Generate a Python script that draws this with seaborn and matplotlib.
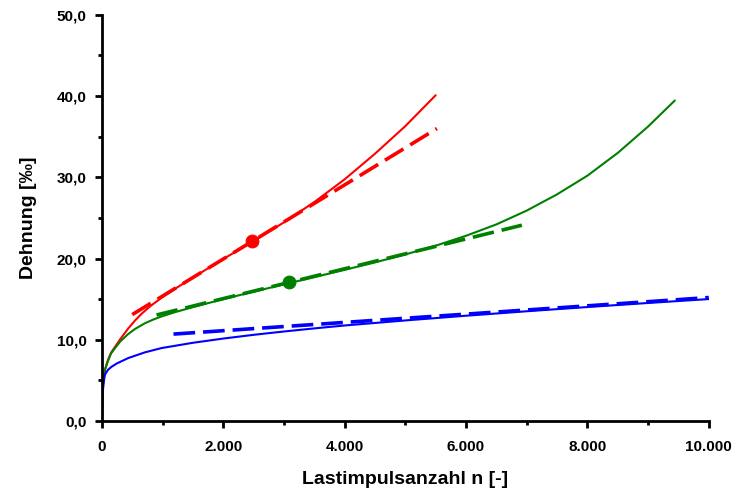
import matplotlib
matplotlib.use("Agg")
import matplotlib.pyplot as plt
import seaborn as sns
from matplotlib.ticker import FuncFormatter, MultipleLocator

# --- data ---
red_n = [0, 10, 25, 50, 100, 150, 214, 300, 434, 550, 654, 800, 983, 1200, 1500, 2000, 2500, 3000,
         3500, 4000, 4500, 5000, 5500]
red_e = [0, 3.2, 5.0, 6.3, 7.5, 8.4, 9.1, 10.05, 11.39, 12.4, 13.2, 14.15, 15.17, 16.25, 17.66, 19.94,
         22.15, 24.45, 26.95, 29.75, 32.9, 36.3, 40.1]

green_n = [0, 10, 25, 50, 100, 150, 214, 300, 434, 550, 708, 850, 983, 1200, 1500, 2000, 2500, 3000,
           3500, 4000, 4500, 5000, 5500, 6000, 6500, 7000, 7500, 8000, 8500, 9000, 9440]
green_e = [0, 3.2, 5.0, 6.3, 7.4, 8.3, 8.95, 9.77, 10.71, 11.35, 12.03, 12.5, 12.87, 13.39, 14.02, 15.0,
           15.92, 16.82, 17.71, 18.61, 19.53, 20.5, 21.58, 22.8, 24.2, 25.9, 27.9, 30.2, 33.0, 36.25, 39.45]

blue_n = [0, 10, 25, 50, 100, 160, 250, 434, 708, 983, 1500, 2000, 2500, 3000, 3500, 4000, 5000,
          6000, 7000, 8000, 9000, 10000]
blue_e = [0, 3.0, 4.5, 5.7, 6.3, 6.68, 7.1, 7.75, 8.45, 8.98, 9.63, 10.15, 10.61, 11.02, 11.4, 11.76,
          12.38, 12.96, 13.51, 14.03, 14.53, 15.01]

red_fit_n = [500, 5520]
red_fit_e = [13.1, 36.0]
green_fit_n = [900, 6920]
green_fit_e = [13.05, 24.1]
blue_fit_n = [1180, 10000]
blue_fit_e = [10.7, 15.2]

red_pt_n, red_pt_e = [2480], [22.2]
green_pt_n, green_pt_e = [3080], [17.05]

RED, GREEN, BLUE = "#ff0000", "#008000", "#0000ff"

sns.set_theme(style="white")
plt.rcParams["font.family"] = ["Liberation Sans", "DejaVu Sans"]
plt.rcParams["text.color"] = "black"
plt.rcParams["axes.labelcolor"] = "black"

fig = plt.figure(figsize=(7.33, 4.93), dpi=100)
ax = fig.add_axes([0.139, 0.146, 0.828, 0.824])

dash = (0, (6, 2.2))
sns.lineplot(x=red_fit_n, y=red_fit_e, color=RED, linewidth=2.6, linestyle=dash, ax=ax)
sns.lineplot(x=green_fit_n, y=green_fit_e, color=GREEN, linewidth=2.6, linestyle=dash, ax=ax)
sns.lineplot(x=blue_fit_n, y=blue_fit_e, color=BLUE, linewidth=2.6, linestyle=dash, ax=ax)

sns.lineplot(x=red_n, y=red_e, color=RED, linewidth=1.5, ax=ax, sort=False)
sns.lineplot(x=green_n, y=green_e, color=GREEN, linewidth=1.5, ax=ax, sort=False)
sns.lineplot(x=blue_n, y=blue_e, color=BLUE, linewidth=1.5, ax=ax, sort=False)

sns.scatterplot(x=red_pt_n, y=red_pt_e, color=RED, s=85, edgecolor=RED, ax=ax, zorder=5)
sns.scatterplot(x=green_pt_n, y=green_pt_e, color=GREEN, s=85, edgecolor=GREEN, ax=ax, zorder=5)

ax.set_xlim(0, 10000)
ax.set_ylim(0, 50)
ax.xaxis.set_major_locator(MultipleLocator(2000))
ax.xaxis.set_minor_locator(MultipleLocator(1000))
ax.yaxis.set_major_locator(MultipleLocator(10))
ax.yaxis.set_minor_locator(MultipleLocator(5))

ax.xaxis.set_major_formatter(FuncFormatter(lambda v, p: f"{int(round(v)):,}".replace(",", ".")))
ax.yaxis.set_major_formatter(FuncFormatter(lambda v, p: f"{v:.1f}".replace(".", ",")))

for side in ["top", "right"]:
    ax.spines[side].set_visible(False)
for side in ["left", "bottom"]:
    ax.spines[side].set_linewidth(2)
    ax.spines[side].set_color("black")

ax.tick_params(which="major", direction="out", length=5, width=2, colors="black",
               labelsize=11, left=True, bottom=True, pad=6)
ax.tick_params(axis="x", which="major", pad=9)
ax.tick_params(which="minor", direction="out", length=3, width=2, colors="black", left=True, bottom=True)
for lab in ax.get_xticklabels() + ax.get_yticklabels():
    lab.set_fontweight("bold")

ax.set_xlabel("Lastimpulsanzahl n [-]", fontsize=14, fontweight="bold", labelpad=12, color="black")
ax.set_ylabel("Dehnung [‰]", fontsize=14, fontweight="bold", labelpad=14, color="black")

fig.savefig("out.png", dpi=100)
